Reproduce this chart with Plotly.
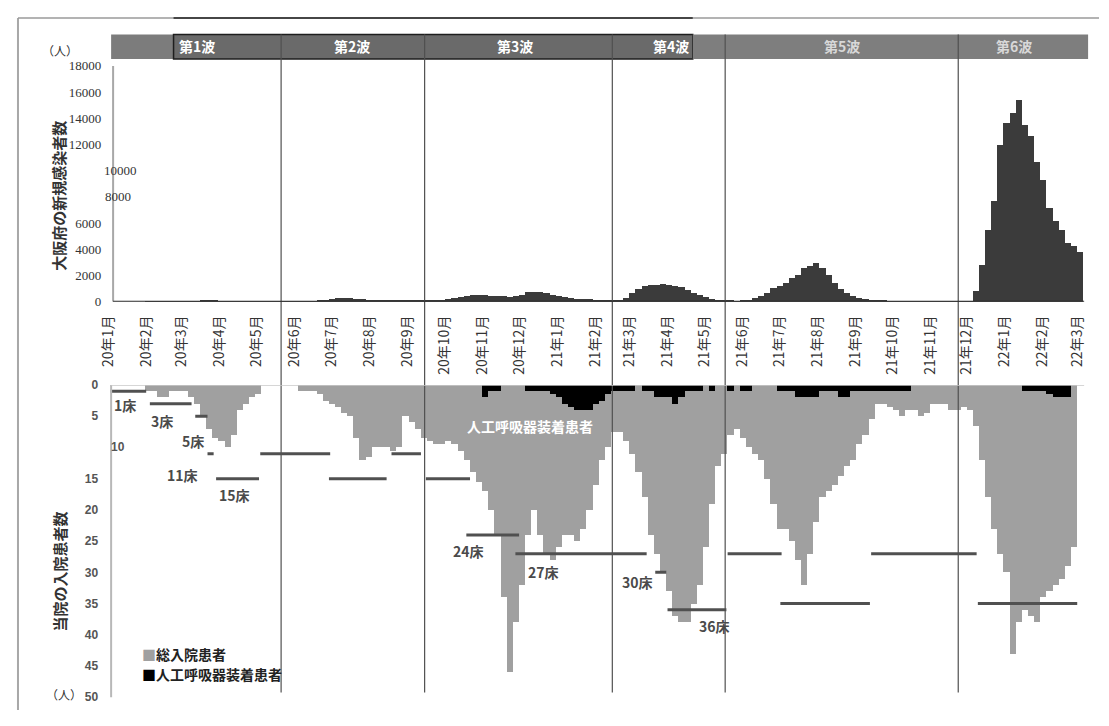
import numpy as np
import pandas as pd
import plotly.graph_objects as go

# page = 8px body margin + figure + 8px margin  -> exactly 1109 x 726
PAGE_W, PAGE_H = 1109, 726
OFF = 8
W, H = PAGE_W - 2 * OFF, PAGE_H - 2 * OFF

# ---------------- data (5-day bins starting 2020-01-01) ----------------
start = pd.Timestamp("2020-01-01")
bin_days = 5

new_cases = [
    0, 0, 0, 0, 0, 0, 5, 5, 5, 10,
    10, 15, 20, 30, 60, 80, 90, 80, 60, 50,
    40, 25, 15, 8, 3, 2, 2, 2, 3, 5,
    10, 20, 30, 60, 100, 150, 250, 300, 300, 290,
    260, 220, 180, 160, 140, 120, 110, 100, 90, 80,
    75, 80, 100, 130, 180, 240, 300, 380, 480, 540,
    500, 520, 480, 470, 430, 400, 420, 550, 720, 760,
    720, 650, 560, 420, 350, 300, 260, 220, 190, 160,
    130, 110, 110, 150, 320, 650, 950, 1200, 1300, 1320,
    1330, 1300, 1250, 1150, 900, 700, 550, 400, 250, 150,
    100, 70, 60, 70, 100, 320, 450, 700, 1070, 1200,
    1440, 1820, 2070, 2560, 2740, 3000, 2560, 2070, 1440, 950,
    650, 450, 320, 200, 170, 120, 80, 60, 40, 30,
    25, 20, 15, 15, 12, 10, 10, 10, 12, 15,
    50, 800, 2800, 5450, 7700, 12000, 13650, 14400, 15400, 13500,
    12650, 10650, 9290, 7170, 6180, 5450, 4500, 4300, 3800,
]

inpatients = [
    0, 0, 0, 0, 0, 0, 1, 1, 2, 2,
    1, 1, 1, 2, 3, 5, 7, 8.5, 9, 10,
    8, 4, 3, 2, 1.5, 0, 0, 0, 0, 0,
    0, 1, 1, 1, 1.5, 2.5, 3, 3.5, 4.5, 5,
    8.5, 12, 11.5, 10, 10, 10, 10.5, 10, 5, 6,
    7, 8.5, 9, 9.5, 9.5, 9, 9.5, 10.5, 12, 14,
    15.5, 17, 20, 24, 34, 46, 38, 32, 24, 20,
    24, 27, 28, 26, 24, 24, 25, 23, 20, 16,
    12, 10, 7.5, 7.5, 9, 11, 14, 18, 24, 27,
    30, 33, 37, 38, 38, 35, 32, 26, 19, 13,
    11, 8, 7, 8.5, 10, 11, 12, 15, 19, 23,
    23, 25, 28, 32, 27, 22, 18, 17, 16, 14.5,
    13, 12, 9.5, 8, 5.5, 3, 3, 3.5, 4, 5,
    4, 4, 5, 4.5, 3, 3, 3, 4, 4, 3.5,
    4, 6.5, 12, 18, 23, 27, 30, 43, 38, 36,
    37, 38, 34, 33, 32, 31, 29, 26, 0,
]

ventilator = (
    [0] * 60 + [
    0, 2, 1, 1, 0, 0, 0, 0, 1, 1,
    1, 1, 1.5, 2, 3, 3.5, 4, 4, 4, 3,
    2.5, 1.5, 1, 1, 1, 1, 0, 1, 1, 2,
    2, 2, 3, 2, 1, 1, 1, 0, 1, 0,
    0, 1, 0, 1, 1, 0, 0, 0, 0, 1,
    1, 1, 2, 2, 2, 2, 1, 1, 1, 2,
    2, 1, 1, 1, 1, 1, 1, 1, 1, 1,
    1, 0, 0, 0, 0, 0, 0, 0, 0, 0,
    0, 0, 0, 0, 0, 0, 0, 0, 0, 1,
    1, 1, 1, 1.5, 2, 2, 2, 0, 0,
])

month_labels = [
    "20年1月", "20年2月", "20年3月", "20年4月", "20年5月", "20年6月",
    "20年7月", "20年8月", "20年9月", "20年10月", "20年11月", "20年12月",
    "21年1月", "21年2月", "21年3月", "21年4月", "21年5月", "21年6月",
    "21年7月", "21年8月", "21年9月", "21年10月", "21年11月", "21年12月",
    "22年1月", "22年2月", "22年3月",
]

wave_names = ["第1波", "第2波", "第3波", "第4波", "第5波", "第6波"]
wave_bounds = ["2020-05-21", "2020-09-15", "2021-02-15", "2021-05-18", "2021-11-24"]

bed_start = ["2020-01-03", "2020-02-04", "2020-03-12", "2020-03-22", "2020-03-29",
             "2020-05-04", "2020-06-29", "2020-08-19", "2020-09-16", "2020-10-19",
             "2020-11-28", "2021-03-22", "2021-04-01", "2021-05-20", "2021-07-02",
             "2021-09-14", "2021-12-10"]
bed_end = ["2020-02-01", "2020-03-09", "2020-03-22", "2020-03-27", "2020-05-03",
           "2020-06-30", "2020-08-15", "2020-09-12", "2020-10-22", "2020-12-01",
           "2021-03-15", "2021-03-31", "2021-05-19", "2021-07-03", "2021-09-13",
           "2021-12-09", "2022-03-01"]
bed_count = [1, 3, 5, 11, 15, 11, 15, 11, 15, 24, 27, 30, 36, 27, 35, 27, 35]

bed_labels = ["1床", "3床", "5床", "11床", "15床", "24床", "27床", "30床", "36床"]

top_ticks = [0, 2000, 4000, 6000, 8000, 10000, 12000, 14000, 16000, 18000]
bottom_ticks = [0, 5, 10, 15, 20, 25, 30, 35, 40, 45, 50]


# ---------------- helpers: page pixel -> figure paper fraction ----------------
def fx(p):
    return (p - OFF) / W


def fy(p):
    return 1 - (p - OFF) / H


n = len(new_cases)
assert len(inpatients) == n and len(ventilator) == n
xbins = start + pd.to_timedelta(bin_days * np.arange(n) + bin_days / 2, unit="D")
bar_w = bin_days * 86400000
month_ticks = pd.date_range(start, periods=len(month_labels), freq="MS")

x_left_px, x_right_px = 98, 1086
px_per_day = 1.238
xr0 = start + pd.Timedelta(days=(x_left_px - 101) / px_per_day)
xr1 = start + pd.Timedelta(days=(x_right_px - 101) / px_per_day)

JP = "Noto Sans CJK JP"

fig = go.Figure()
fig.add_trace(go.Bar(x=xbins, y=new_cases, width=bar_w, marker=dict(color="#3b3b3b", line=dict(width=0)),
                     xaxis="x", yaxis="y", name="大阪府の新規感染者数", showlegend=False))
fig.add_trace(go.Bar(x=xbins, y=inpatients, width=bar_w, marker=dict(color="#a0a0a0", line=dict(width=0)),
                     xaxis="x2", yaxis="y2", name="総入院患者", showlegend=False))
fig.add_trace(go.Bar(x=xbins, y=ventilator, width=bar_w, marker=dict(color="#000000", line=dict(width=0)),
                     xaxis="x2", yaxis="y2", name="人工呼吸器装着患者", showlegend=False))

bx, by = [], []
for s, e, c in zip(bed_start, bed_end, bed_count):
    bx += [s, e, None]
    by += [c, c, None]
fig.add_trace(go.Scatter(x=bx, y=by, mode="lines", line=dict(color="#505050", width=3),
                         xaxis="x2", yaxis="y2", name="病床数", showlegend=False, hoverinfo="skip"))

shapes = []
# outer frame
shapes.append(dict(type="line", xref="paper", yref="paper", x0=fx(10), x1=fx(10), y0=fy(11), y1=0,
                   line=dict(color="#a8a8a8", width=2)))
shapes.append(dict(type="line", xref="paper", yref="paper", x0=fx(10), x1=1, y0=fy(11), y1=fy(11),
                   line=dict(color="#9a9a9a", width=1.5)))
shapes.append(dict(type="line", xref="paper", yref="paper", x0=fx(167), x1=fx(691), y0=fy(11), y1=fy(11),
                   line=dict(color="#222222", width=1.5)))
# header band
hy0, hy1 = fy(53), fy(28)
shapes.append(dict(type="rect", xref="paper", yref="paper", x0=fx(104), x1=fx(167), y0=hy0, y1=hy1,
                   fillcolor="#7c7c7c", line=dict(width=0), layer="below"))
shapes.append(dict(type="rect", xref="paper", yref="paper", x0=fx(167), x1=fx(691), y0=hy0, y1=hy1,
                   fillcolor="#6a6a6a", line=dict(color="#1e1e1e", width=1.5), layer="below"))
shapes.append(dict(type="rect", xref="paper", yref="paper", x0=fx(691), x1=fx(1090), y0=hy0, y1=hy1,
                   fillcolor="#7e7e7e", line=dict(width=0), layer="below"))
# wave dividers
for b in wave_bounds:
    shapes.append(dict(type="line", xref="x", yref="paper", x0=b, x1=b, y0=fy(700), y1=hy1,
                       line=dict(color="#505050", width=1.2)))
# y-axis lines
shapes.append(dict(type="line", xref="paper", yref="y", x0=fx(106), x1=fx(106), y0=0, y1=18000,
                   line=dict(color="#a8a8a8", width=2)))
shapes.append(dict(type="line", xref="paper", yref="y2", x0=fx(104), x1=fx(104), y0=0, y1=50.5,
                   line=dict(color="#b8b8b8", width=2)))
# baseline of the upper chart and zero line of the lower chart
shapes.append(dict(type="line", xref="paper", yref="y", x0=fx(106), x1=fx(1086), y0=0, y1=0,
                   line=dict(color="#2a2a2a", width=2)))
shapes.append(dict(type="line", xref="paper", yref="y2", x0=fx(104), x1=fx(1086), y0=0, y1=0,
                   line=dict(color="#c8c8c8", width=1.5)))

annotations = []


def ann(text, x, y, size=14, color="#333333", xanchor="center", yanchor="middle", angle=0,
        xref="paper", yref="paper", family=JP):
    annotations.append(dict(text=text, x=x, y=y, xref=xref, yref=yref, showarrow=False,
                            xanchor=xanchor, yanchor=yanchor, textangle=angle,
                            font=dict(family=family, size=size, color=color)))


# header wave names
wave_cx = [191, 347, 512, 669, 842, 1015]
for i, (name, cx) in enumerate(zip(wave_names, wave_cx)):
    ann("<b>" + name + "</b>", fx(cx), fy(40), size=14, color="#ffffff" if i < 4 else "#d8d8d8")

# units
ann("（人）", fx(52), fy(44), size=12, color="#333333")
ann("（人）", fx(56), fy(702), size=12, color="#333333")

# axis titles
ann("<b>大阪府の新規感染者数</b>", fx(50), fy(193), size=15, color="#333333", angle=-90)
ann("<b>当院の入院患者数</b>", fx(52), fy(577), size=15, color="#333333", angle=-90)

# displaced tick labels
ann("8000", fx(96), 8000, size=13, color="#333333", xanchor="left", yref="y", family="Liberation Serif")
ann("10000", fx(95), 10000, size=13, color="#333333", xanchor="left", yref="y", family="Liberation Serif")
ann("<b>10</b>", fx(102), 10, size=12, color="#555555", xanchor="left", yref="y2", family="Liberation Sans")

# bed labels
bed_label_pos = [(118, 406), (155, 423), (187, 443), (176, 478), (229, 498),
                 (465, 556), (540, 577), (635, 587), (713, 632)]
for t, (lx, ly) in zip(bed_labels, bed_label_pos):
    ann("<b>" + t + "</b>", fx(lx), fy(ly), size=14, color="#4a4a4a")

# in-plot label
ann("<b>人工呼吸器装着患者</b>", fx(527), fy(428), size=14, color="#ffffff")

# legend
ann("<span style='color:#a0a0a0'>■</span><b>総入院患者</b>", fx(133), fy(661), size=14,
    color="#222222", xanchor="left")
ann("<span style='color:#000000'>■</span><b>人工呼吸器装着患者</b>", fx(133), fy(681), size=14,
    color="#222222", xanchor="left")

top_ticktext = ["" if v in (8000, 10000) else str(v) for v in top_ticks]
bottom_ticktext = ["" if v == 10 else str(v) for v in bottom_ticks]

fig.update_layout(
    width=W, height=H, autosize=False,
    margin=dict(l=0, r=0, t=0, b=0, pad=0),
    paper_bgcolor="white", plot_bgcolor="rgba(0,0,0,0)",
    barmode="overlay", bargap=0,
    showlegend=False,
    xaxis=dict(domain=[fx(x_left_px), fx(x_right_px)], anchor="y", type="date",
               range=[xr0, xr1], tickmode="array", tickvals=month_ticks, ticktext=month_labels,
               tickangle=-90, tickfont=dict(family=JP, size=14, color="#333333"),
               showline=False, showgrid=False, ticks="",
               ticklabelstandoff=10, zeroline=False),
    yaxis=dict(domain=[fy(301), fy(60)], anchor="x", range=[0, 18000],
               tickmode="array", tickvals=top_ticks, ticktext=top_ticktext,
               tickfont=dict(family="Liberation Serif", size=13, color="#333333"),
               showline=False, showgrid=False, ticks="",
               ticklabelstandoff=3, zeroline=False),
    xaxis2=dict(domain=[fx(x_left_px), fx(x_right_px)], anchor="y2", type="date", matches="x",
                showticklabels=False, showline=False, showgrid=False, ticks="", zeroline=False),
    yaxis2=dict(domain=[fy(705), fy(386)], anchor="x2", range=[50, 0],
                tickmode="array", tickvals=bottom_ticks, ticktext=bottom_ticktext,
                tickfont=dict(family="Liberation Sans", size=12, color="#555555", weight="bold"),
                showline=False, showgrid=False, ticks="",
                ticklabelstandoff=6, zeroline=False),
    shapes=shapes,
    annotations=annotations,
)

fig.write_html("out.html", config={"displayModeBar": False})
